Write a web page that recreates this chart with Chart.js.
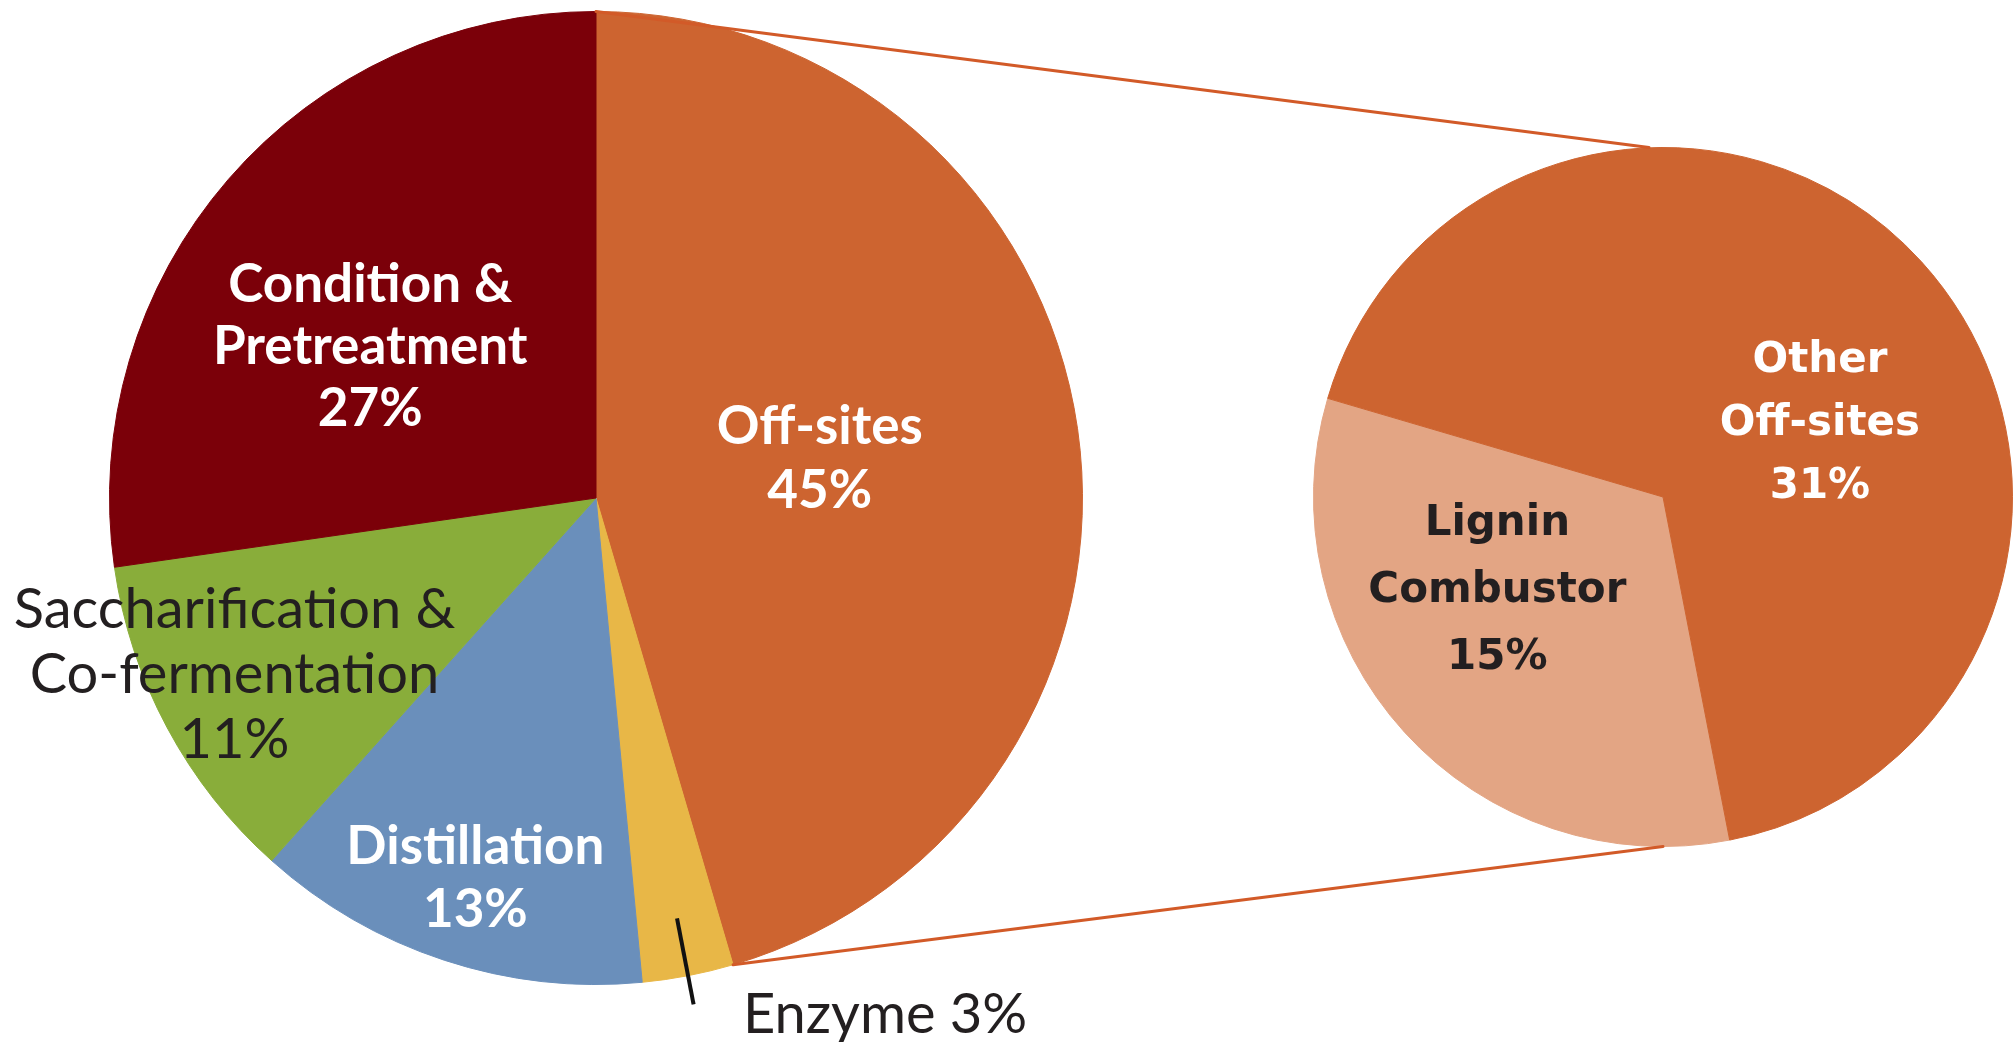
<!DOCTYPE html>
<html>
<head>
<meta charset="utf-8">
<title>Installed capital cost by plant area</title>
<script src="https://cdn.jsdelivr.net/npm/chart.js@4.4.1/dist/chart.umd.min.js"></script>
<style>
  html, body { margin: 0; padding: 0; background: #ffffff; }
  #wrap { position: relative; width: 2016px; height: 1042px; overflow: hidden; background: #ffffff; }
  #wrap canvas { position: absolute; left: 0; top: 0; }
</style>
</head>
<body>
<div id="wrap">
  <canvas id="areaPie" width="2016" height="1042"></canvas>
  <canvas id="offsitePie" width="2016" height="1042"></canvas>
</div>
<script>
// Share of installed cost by plant area (%), clockwise from 12 o'clock
const areaNames = [
  ['Off-sites'],
  ['Enzyme'],
  ['Distillation'],
  ['Saccharification &', 'Co-fermentation'],
  ['Condition &', 'Pretreatment']
];
const areaShares = [45, 3, 13, 11, 27];

// Breakdown of the off-sites share (%)
const offsiteNames = [
  ['Lignin', 'Combustor'],
  ['Other', 'Off-sites']
];
const offsiteShares = [15, 31];

// ---- styling ----
const areaColors = ['#cd6430', '#e8b747', '#6a8fbb', '#89ad3a', '#7b0009'];
const offsiteColors = ['#e3a584', '#cd6430'];
const WHITE = '#ffffff';
const DARK = '#231f20';
const mainBold = 'bold 53px Lato';
const mainRegular = '56px Lato';
const sideBold = 'bold 42px "DejaVu Sans"';

// label anchors: first baseline, relative to pie centre in units of radius
const areaLabelStyle = [
  { dx: 0.460, dy: -0.111, lh: 64, font: mainBold, color: WHITE },
  { dx: 0.302, dy: 1.099, lh: 0, font: mainRegular, color: DARK, inline: true, align: 'left', leader: [0.88, 1.06] },
  { dx: -0.248, dy: 0.752, lh: 63, font: mainBold, color: WHITE },
  { dx: -0.743, dy: 0.267, lh: 65, font: mainRegular, color: DARK },
  { dx: -0.464, dy: -0.402, lh: 62, font: mainBold, color: WHITE }
];
const offsiteLabelStyle = [
  { dx: -0.474, dy: 0.109, lh: 67, font: sideBold, color: DARK },
  { dx: 0.449, dy: -0.357, lh: 63, font: sideBold, color: WHITE }
];

// Writes the name lines and the percentage inside/near each slice
const sliceLabels = {
  id: 'sliceLabels',
  afterDatasetsDraw(chart, args, opts) {
    const ctx = chart.ctx;
    const meta = chart.getDatasetMeta(0);
    const values = chart.data.datasets[0].data;
    const names = chart.data.labels;
    opts.items.forEach((st, i) => {
      const arc = meta.data[i];
      if (!arc) return;
      const r = arc.outerRadius;
      const pct = values[i] + '%';
      const lines = st.inline ? [names[i].join(' ') + ' ' + pct] : names[i].concat([pct]);
      const x = arc.x + st.dx * r;
      let y = arc.y + st.dy * r;
      ctx.save();
      ctx.font = st.font;
      ctx.fillStyle = st.color;
      ctx.textAlign = st.align || 'center';
      ctx.textBaseline = 'alphabetic';
      lines.forEach(line => { ctx.fillText(line, x, y); y += st.lh; });
      if (st.leader) {
        const mid = (arc.startAngle + arc.endAngle) / 2;
        ctx.beginPath();
        ctx.moveTo(arc.x + Math.cos(mid) * r * st.leader[0], arc.y + Math.sin(mid) * r * st.leader[0]);
        ctx.lineTo(arc.x + Math.cos(mid) * r * st.leader[1], arc.y + Math.sin(mid) * r * st.leader[1]);
        ctx.lineWidth = 4;
        ctx.strokeStyle = '#111111';
        ctx.stroke();
      }
      ctx.restore();
    });
  }
};

// Draws the two lines joining the off-sites slice to the breakdown pie
const explodeLines = {
  id: 'explodeLines',
  afterDatasetsDraw(chart, args, opts) {
    const src = opts.source && opts.source();
    if (!src) return;
    const a = src.getDatasetMeta(0).data[opts.sliceIndex];
    const b = chart.getDatasetMeta(0).data[0];
    if (!a || !b) return;
    const ctx = chart.ctx;
    const ra = a.outerRadius, rb = b.outerRadius;
    ctx.save();
    ctx.strokeStyle = '#d25a28';
    ctx.lineWidth = 3;
    ctx.lineCap = 'round';
    ctx.beginPath();
    ctx.moveTo(a.x + Math.cos(a.startAngle) * ra, a.y + Math.sin(a.startAngle) * ra);
    ctx.lineTo(b.x - rb * 0.04, b.y - rb);
    ctx.moveTo(a.x + Math.cos(a.endAngle) * ra, a.y + Math.sin(a.endAngle) * ra);
    ctx.lineTo(b.x, b.y + rb);
    ctx.stroke();
    ctx.restore();
  }
};

function pieOptions(padding, rotation, labelItems, extra) {
  return {
    responsive: false,
    devicePixelRatio: 1,
    animation: false,
    events: [],
    rotation: rotation,
    layout: { padding: padding },
    plugins: Object.assign({
      legend: { display: false },
      tooltip: { enabled: false },
      title: { display: false },
      sliceLabels: { items: labelItems }
    }, extra || {})
  };
}

const areaChart = new Chart(document.getElementById('areaPie'), {
  type: 'pie',
  data: {
    labels: areaNames,
    datasets: [{
      data: areaShares,
      backgroundColor: areaColors,
      borderColor: areaColors,
      borderWidth: 1
    }]
  },
  options: pieOptions({ left: 109, top: 11, right: 933, bottom: 57 }, 0, areaLabelStyle),
  plugins: [sliceLabels]
});

const offsiteChart = new Chart(document.getElementById('offsitePie'), {
  type: 'pie',
  data: {
    labels: offsiteNames,
    datasets: [{
      data: offsiteShares,
      backgroundColor: offsiteColors,
      borderColor: offsiteColors,
      borderWidth: 1
    }]
  },
  options: pieOptions({ left: 1313, top: 147, right: 3, bottom: 195 }, 169, offsiteLabelStyle, {
    explodeLines: { source: () => areaChart, sliceIndex: 0 }
  }),
  plugins: [sliceLabels, explodeLines]
});
</script>
</body>
</html>
